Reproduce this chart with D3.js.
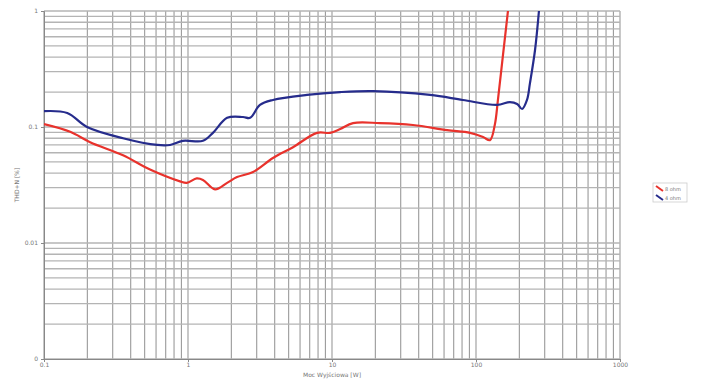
<!DOCTYPE html>
<html>
<head>
<meta charset="utf-8">
<script src="https://cdn.jsdelivr.net/npm/d3@7"></script>
<style>
  body { margin: 0; background: #fff; }
  text { font-family: "DejaVu Sans", sans-serif; }
</style>
</head>
<body>
<div id="chart"></div>
<script>
// Data: output power [W] vs THD+N [%]
const power8 = [0.1, 0.152, 0.209, 0.354, 0.545, 0.88, 0.98, 1.15, 1.27, 1.54, 1.87, 2.19, 2.83, 3.89, 5.36, 7.87, 9.7, 11.4, 14.0, 21.5, 36.5, 63, 91, 112, 125, 135, 142, 154, 167];
const thd8   = [0.106, 0.091, 0.074, 0.057, 0.043, 0.034, 0.033, 0.036, 0.035, 0.029, 0.033, 0.037, 0.041, 0.054, 0.067, 0.089, 0.089, 0.096, 0.108, 0.108, 0.104, 0.094, 0.089, 0.082, 0.077, 0.104, 0.171, 0.418, 1.02];
const power4 = [0.1, 0.145, 0.199, 0.354, 0.61, 0.75, 0.92, 1.27, 1.49, 1.87, 2.41, 2.70, 3.16, 3.89, 6.70, 11.4, 19.3, 48, 81, 140, 172, 193, 209, 226, 237, 257, 274];
const thd4   = [0.137, 0.132, 0.100, 0.080, 0.070, 0.070, 0.076, 0.076, 0.089, 0.120, 0.122, 0.120, 0.155, 0.171, 0.189, 0.200, 0.204, 0.189, 0.171, 0.155, 0.164, 0.158, 0.143, 0.171, 0.239, 0.461, 1.02];

const xTicks = [0.1, 1, 10, 100, 1000];
const xTickLabels = ["0.1", "1", "10", "100", "1000"];
const yTicks = [0.001, 0.01, 0.1, 1];
const yTickLabels = ["0", "0.01", "0.1", "1"];
const seriesNames = ["8 ohm", "4 ohm"];
const seriesColors = ["#e8322c", "#262c8c"];

const width = 705, height = 387;
const svg = d3.select("#chart").append("svg")
    .attr("width", width)
    .attr("height", height);

const x = d3.scaleLog().domain([0.1, 1000]).range([44, 620]);
const y = d3.scaleLog().domain([0.001, 1]).range([359, 11]);

// Grid
const grid = svg.append("g");
grid.selectAll("line.v")
  .data(x.ticks())
  .join("line")
    .attr("x1", d => x(d)).attr("x2", d => x(d))
    .attr("y1", y(1)).attr("y2", y(0.001))
    .attr("stroke", "#9a9a9a")
    .attr("stroke-width", 1.1);
grid.selectAll("line.h")
  .data(y.ticks())
  .join("line")
    .attr("x1", x(0.1)).attr("x2", x(1000))
    .attr("y1", d => y(d)).attr("y2", d => y(d))
    .attr("stroke", "#b4b4b4")
    .attr("stroke-width", 1.3);

// Axes
const xAxis = svg.append("g")
    .attr("transform", `translate(0,${y(0.001)})`)
    .call(d3.axisBottom(x).tickValues(xTicks).tickSize(3).tickPadding(1)
      .tickFormat((d, i) => xTickLabels[i]));
const yAxis = svg.append("g")
    .attr("transform", `translate(${x(0.1)},0)`)
    .call(d3.axisLeft(y).tickValues(yTicks).tickSize(3)
      .tickFormat((d, i) => yTickLabels[i]));
[xAxis, yAxis].forEach(a => {
  a.select(".domain").attr("stroke", "#888");
  a.selectAll(".tick line").attr("stroke", "#888");
  a.selectAll("text").attr("fill", "#777").style("font-size", "6px");
});

// Axis titles
svg.append("text")
    .attr("x", 332).attr("y", 377)
    .attr("text-anchor", "middle")
    .attr("fill", "#777")
    .style("font-size", "6px")
    .text("Moc Wyjściowa [W]");
svg.append("text")
    .attr("transform", "translate(19,185) rotate(-90)")
    .attr("text-anchor", "middle")
    .attr("fill", "#777")
    .style("font-size", "6px")
    .text("THD+N [%]");

// Curves
svg.append("clipPath").attr("id", "clip")
  .append("rect")
    .attr("x", x(0.1)).attr("y", y(1))
    .attr("width", x(1000) - x(0.1)).attr("height", y(0.001) - y(1));

const line = d3.line()
    .x(d => x(d[0]))
    .y(d => y(d[1]))
    .curve(d3.curveCatmullRom.alpha(0.5));

const series = [
  power8.map((p, i) => [p, thd8[i]]),
  power4.map((p, i) => [p, thd4[i]])
];

svg.append("g").attr("clip-path", "url(#clip)")
  .selectAll("path")
  .data(series)
  .join("path")
    .attr("d", line)
    .attr("fill", "none")
    .attr("stroke", (d, i) => seriesColors[i])
    .attr("stroke-width", 2.2);

// Legend
const legend = svg.append("g").attr("transform", "translate(653,183)");
legend.append("rect")
    .attr("width", 34).attr("height", 19)
    .attr("fill", "#fff")
    .attr("stroke", "#ccc")
    .attr("stroke-width", 0.8);
seriesNames.forEach((name, i) => {
  const g = legend.append("g").attr("transform", `translate(0,${5 + i * 9})`);
  g.append("line")
      .attr("x1", 3).attr("y1", -2).attr("x2", 10).attr("y2", 3)
      .attr("stroke", seriesColors[i])
      .attr("stroke-width", 2);
  g.append("text")
      .attr("x", 12).attr("y", 2.5)
      .attr("fill", "#777")
      .style("font-size", "5px")
      .text(name);
});
</script>
</body>
</html>
